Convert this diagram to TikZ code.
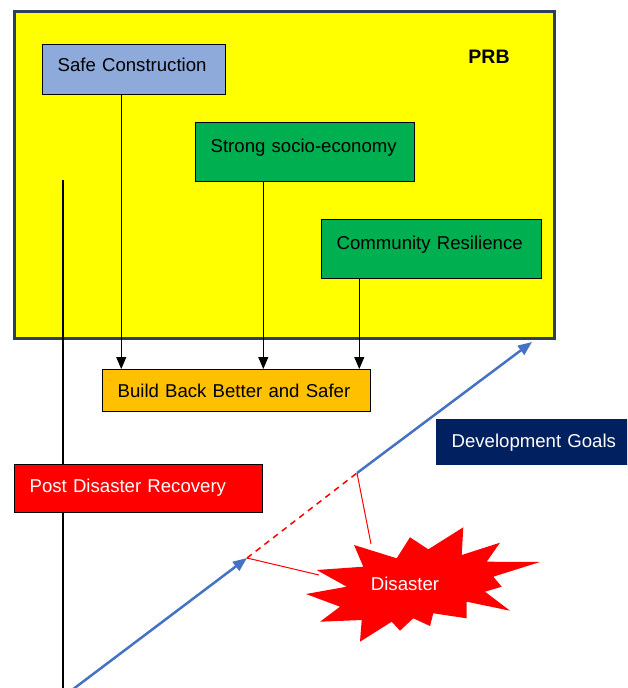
\documentclass[tikz,border=0pt]{standalone}
\usepackage{fontspec}
\setmainfont{Liberation Sans}
\usetikzlibrary{arrows.meta,calc}
\definecolor{prbyellow}{HTML}{FFFF00}
\definecolor{prbedge}{HTML}{2E3F5C}
\definecolor{scblue}{HTML}{8EAADB}
\definecolor{okgreen}{HTML}{00B050}
\definecolor{bbbgold}{HTML}{FFC000}
\definecolor{devnavy}{HTML}{002060}
\definecolor{pdred}{HTML}{FF0000}
\definecolor{lineblue}{HTML}{4472C4}
\begin{document}
\begin{tikzpicture}[x=1pt,y=-1pt,
  font=\fontsize{18.6}{22}\selectfont,
  box/.style={rectangle, draw=black, line width=1.3pt, inner xsep=15pt, inner ysep=0pt,
    align=left, anchor=north west, text height=13.5pt},
  feed/.style={-{Triangle[length=12pt,width=10pt]}, line width=0.9pt, black},
  trend/.style={-{Triangle[length=14pt,width=11pt]}, line width=2.5pt, lineblue},
  hit/.style={pdred, line width=1pt},
]
\useasboundingbox (0,0) rectangle (627,688);
\clip (0,0) rectangle (627,688);

% PRB container
\node[rectangle, draw=prbedge, line width=2.5pt, fill=prbyellow, anchor=north west,
      minimum width=540pt, minimum height=327pt, inner sep=0pt] (prb) at (13,10) {};
\node[font=\fontsize{19.5}{22}\selectfont\bfseries] (prblabel) at (489,57) {PRB};

% boxes
\node[box, fill=scblue, text width=153pt, minimum height=50pt, text depth=10.1pt] (sc) at (42,44) {Safe Construction};
\node[box, fill=okgreen, text width=189pt, minimum height=59pt, text depth=13.1pt] (se) at (195,122) {Strong socio-economy};
\node[box, fill=okgreen, text width=190pt, minimum height=59pt, text depth=13.1pt] (cr) at (321,219) {Community Resilience};
\node[box, fill=bbbgold, text width=238pt, minimum height=42pt, text depth=0.1pt] (bbb) at (102,369) {Build Back Better and Safer};

% vertical black line (behind red box)
\coordinate (vtop) at (63,180);
\coordinate (vbot) at (63,690);
\draw[line width=2pt, black] (vtop) -- (vbot);

\node[box, fill=pdred, text=white, text width=218pt, minimum height=48pt, text depth=6.1pt] (pdr) at (14,464) {Post Disaster Recovery};
\node[box, draw=devnavy, fill=devnavy, text=white, text width=190pt, minimum height=45pt, text depth=3.1pt] (dev) at (436,419) {Development Goals};

% feed arrows
\coordinate (scout) at ($(sc.south west)!0.43!(sc.south east)$);
\coordinate (seout) at ($(se.south west)!0.31!(se.south east)$);
\coordinate (crout) at ($(cr.south west)!0.173!(cr.south east)$);
\draw[feed] (scout) -- (scout |- bbb.north);
\draw[feed] (seout) -- (seout |- bbb.north);
\draw[feed] (crout) -- (crout |- bbb.north);

% development trend line
\coordinate (b0) at (72,690);
\coordinate (p1) at (247,558);
\coordinate (p2) at (357,473);
\coordinate (b3) at (532,342);
\draw[trend] (b0) -- (p1);
\draw[pdred, line width=1.5pt, dash pattern=on 6pt off 5pt] (p1) -- (p2);
\draw[trend] (p2) -- (b3);

% disaster starburst
\fill[pdred] (463.3,527.3) -- (461.7,555) -- (500,542.7) -- (486.7,561.7) -- (540,562)
  -- (493.3,576.7) -- (501.7,586.7) -- (485,591.7) -- (510,610.7) -- (466.7,601.7)
  -- (466.7,618.3) -- (433.3,613.3) -- (430,626) -- (413.3,618.3) -- (400,630.7)
  -- (391.7,621.7) -- (360,641.7) -- (361.7,620) -- (320,621.7) -- (340,606.7)
  -- (306,594) -- (346.7,586.7) -- (316.7,570) -- (363.3,566.7) -- (354,545)
  -- (396.7,558.3) -- (410,537.3) -- (428.3,549.3) -- cycle;
\node[text=white] (dis) at (405,584) {Disaster};
\coordinate (s1) at (319,575);
\coordinate (s2) at (371,544);
\draw[hit] (p1) -- (s1);
\draw[hit] (p2) -- (s2);
\end{tikzpicture}
\end{document}
